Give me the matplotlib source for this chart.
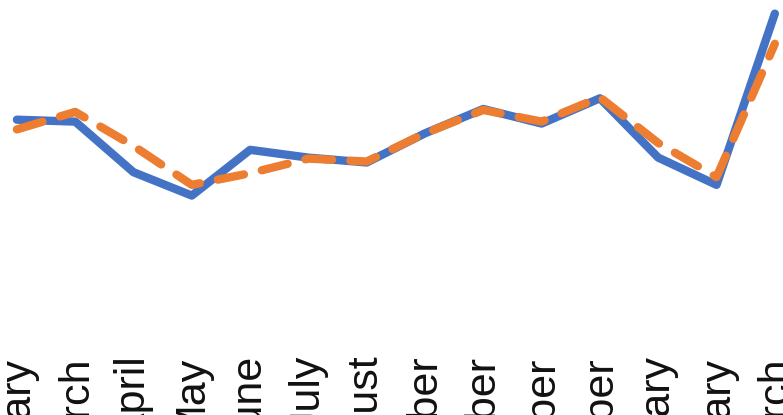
import matplotlib
matplotlib.use('Agg')
import matplotlib.pyplot as plt

# ── Data ──────────────────────────────────────────────────────
months = ['February', 'March', 'April', 'May', 'June', 'July', 'August',
          'September', 'October', 'November', 'December', 'January',
          'February', 'March']
series_a = [127, 125, 73, 49, 96, 88, 83, 113, 138, 123, 149, 88, 60, 236]
series_b = [117, 135, 100, 60, 72, 87, 84, 113, 137, 125, 150, 103, 68, 205]

BLUE   = '#4472C4'
ORANGE = '#ED7D31'

fig = plt.figure(figsize=(7.83, 4.15), dpi=100)
ax = fig.add_axes([0, 0.17, 1, 0.83])

x = range(len(months))
ax.plot(x, series_a, color=BLUE, linewidth=6, solid_joinstyle='round',
        solid_capstyle='round')
ax.plot(x, series_b, color=ORANGE, linewidth=6, dashes=(3.2, 2.2),
        dash_capstyle='round', dash_joinstyle='round')

ax.set_xlim(-0.29, 13.14)
ax.set_ylim(-104, 250)
ax.set_xticks(list(x))
ax.set_xticklabels(months, rotation=90, fontsize=31, color='#111111',
                   family='Liberation Sans')
ax.tick_params(axis='x', length=0, pad=8)
ax.set_yticks([])
for s in ax.spines.values():
    s.set_visible(False)

plt.savefig('out.png', dpi=100, facecolor='white')
